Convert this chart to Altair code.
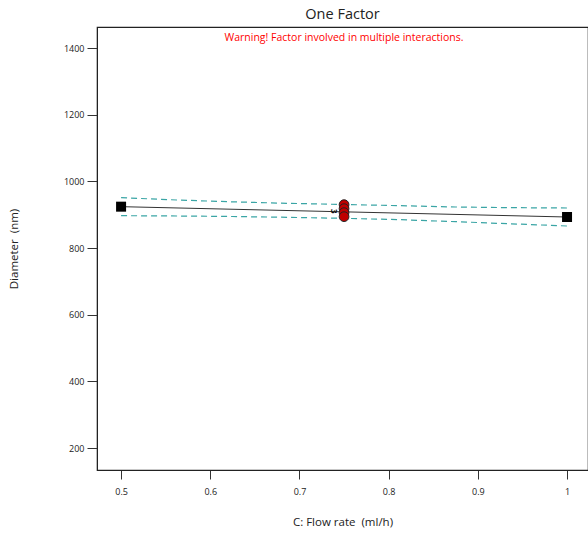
import altair as alt
import pandas as pd

# Prediction line
line_x = [0.5, 1.0]
line_y = [924, 893]

# Confidence band (dashed)
band_x = [0.5, 0.5625, 0.625, 0.6875, 0.75, 0.8125, 0.875, 0.9375, 1.0]
band_upper = [951, 944, 938.5, 934, 930.5, 927, 923, 921, 920]
band_lower = [897, 896, 894.5, 892, 889, 885, 879, 872.5, 866]

# Design points
pt_x = [0.75, 0.75, 0.75, 0.75]
pt_y = [930, 918, 906, 894]

# Ends (squares)
end_x = [0.5, 1.0]
end_y = [924, 893]

xdom = [0.473, 1.0235]
ydom = [134, 1463]
FONT = "Open Sans"
NB = "\u00a0"

xs = alt.Scale(domain=xdom, nice=False, zero=False)
ys = alt.Scale(domain=ydom, nice=False, zero=False)

xaxis = alt.Axis(values=[0.5, 0.6, 0.7, 0.8, 0.9, 1.0], format="~g", grid=False,
                 tickSize=9, labelPadding=8, titlePadding=20, domainColor="#222",
                 tickColor="#333", labelFontSize=9, titleFontSize=11.5,
                 labelColor="#222", titleColor="#222", titleFontWeight="normal",
                 labelFont=FONT, titleFont=FONT)
yaxis = alt.Axis(values=[200, 400, 600, 800, 1000, 1200, 1400], format="d", grid=False,
                 tickSize=10, labelPadding=3, titlePadding=44, domainColor="#222",
                 tickColor="#333", labelFontSize=9, titleFontSize=11.5,
                 labelColor="#222", titleColor="#222", titleFontWeight="normal",
                 labelFont=FONT, titleFont=FONT)

line_df = pd.DataFrame({"x": line_x, "y": line_y})
band_df = pd.DataFrame({"x": band_x, "up": band_upper, "lo": band_lower})
pt_df = pd.DataFrame({"x": pt_x, "y": pt_y})
end_df = pd.DataFrame({"x": end_x, "y": end_y})
lab_df = pd.DataFrame({"x": [0.7375], "y": [910], "t": ["3"]})

base_line = alt.Chart(line_df).mark_line(color="#333", strokeWidth=1).encode(
    x=alt.X("x:Q", scale=xs, axis=xaxis, title="C: Flow rate" + NB + NB + "(ml/h)"),
    y=alt.Y("y:Q", scale=ys, axis=yaxis, title="Diameter" + NB + NB + "(nm)"),
)
up = alt.Chart(band_df).mark_line(color="#3aa5a5", strokeDash=[6, 4], strokeWidth=1.2).encode(
    x=alt.X("x:Q", scale=xs), y=alt.Y("up:Q", scale=ys))
lo = alt.Chart(band_df).mark_line(color="#3aa5a5", strokeDash=[6, 4], strokeWidth=1.2).encode(
    x=alt.X("x:Q", scale=xs), y=alt.Y("lo:Q", scale=ys))
pts = alt.Chart(pt_df).mark_point(shape="circle", filled=True, size=95, fill="#c00000",
                                  stroke="#222", strokeWidth=1, opacity=1).encode(
    x=alt.X("x:Q", scale=xs), y=alt.Y("y:Q", scale=ys))
ends = alt.Chart(end_df).mark_point(shape="square", filled=True, size=100, color="black",
                                    opacity=1).encode(
    x=alt.X("x:Q", scale=xs), y=alt.Y("y:Q", scale=ys))
lab = alt.Chart(lab_df).mark_text(fontSize=8, angle=90, color="#111", font=FONT,
                                  fontWeight="bold").encode(
    x=alt.X("x:Q", scale=xs), y=alt.Y("y:Q", scale=ys), text="t:N")
warn = alt.Chart(pd.DataFrame({"t": ["Warning! Factor involved in multiple interactions."]})).mark_text(
    fontSize=10.5, color="#ff0000", font=FONT).encode(
    x=alt.value(247), y=alt.value(11), text="t:N")

chart = alt.layer(up, lo, base_line, ends, pts, lab, warn).properties(
    width=491, height=443,
    title=alt.TitleParams("One Factor", fontSize=14.5, font=FONT, fontWeight="normal",
                          color="#222", offset=5),
    autosize=alt.AutoSizeParams(type="none"),
    padding={"left": 97, "top": 27, "right": 0, "bottom": 65},
).configure_view(stroke="#222", strokeWidth=1.2)

chart.save("out.html", embed_options={"renderer": "svg", "actions": False})
